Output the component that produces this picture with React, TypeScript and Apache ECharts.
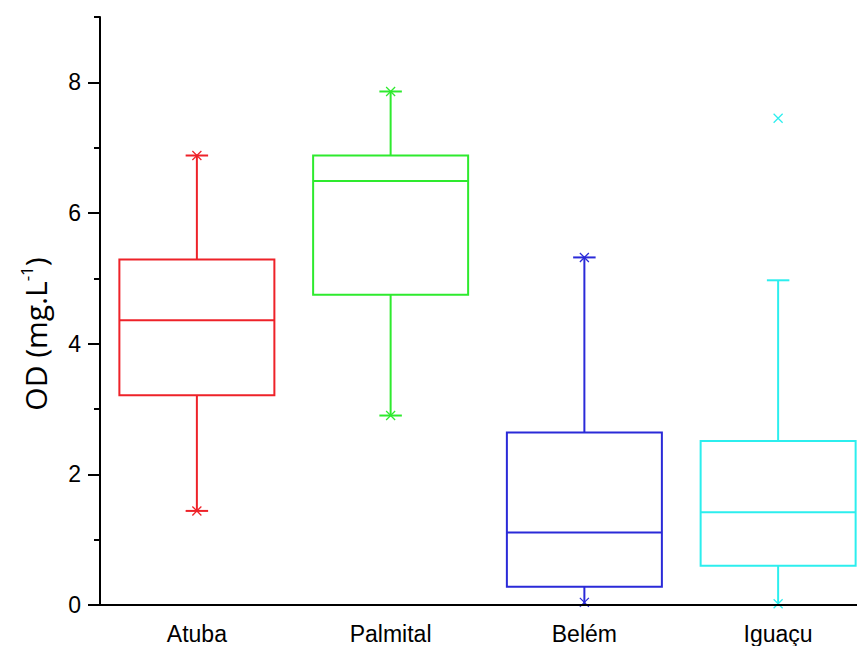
import React, { useEffect, useRef } from "react";
import * as echarts from "echarts";

const categories = ["Atuba", "Palmital", "Belém", "Iguaçu"];
const colors = ["#ee2229", "#2eea2e", "#2a2ad8", "#2ceeee"];
// [min, Q1, median, Q3, max]
const boxStats = [
  [1.44, 3.21, 4.36, 5.29, 6.88],
  [2.9, 4.75, 6.49, 6.88, 7.86],
  [0.0, 0.28, 1.11, 2.64, 5.32],
  [0.0, 0.6, 1.42, 2.51, 4.97],
];
const means = [4.27, 5.75, 1.7, 2.0];
// x-shaped markers (percentiles / outliers): [categoryIndex, value]
const crossMarks = [
  [0, 6.88], [0, 1.44],
  [1, 7.86], [1, 2.9],
  [2, 5.32], [2, 0.04],
  [3, 7.45], [3, 0.02],
];
const yMajorTicks = [0, 2, 4, 6, 8];
const yMinorTicks = [1, 3, 5, 7, 9];
const yTitle = "OD (mg.L{sup|-1})";

export default function App() {
  const ref = useRef<HTMLDivElement>(null);
  useEffect(() => {
    if (!ref.current) return;
    const chart = echarts.init(ref.current, undefined, { renderer: "svg" });
    const font = "Liberation Sans, Arial, sans-serif";
    const nameFont = "Open Sans, Liberation Sans, sans-serif";
    chart.setOption({
      animation: false,
      grid: { left: 100, top: 17, width: 775, height: 588, outerBoundsMode: "none", containLabel: false },
      graphic: [
        {
          type: "text",
          x: 35,
          y: 334,
          rotation: Math.PI / 2,
          style: {
            text: yTitle,
            fill: "#000",
            fontSize: 30,
            fontFamily: nameFont,
            align: "center",
            verticalAlign: "middle",
            rich: {
              sup: { fontSize: 17, fontFamily: nameFont, fill: "#000", verticalAlign: "top", padding: [0, 0, 18, 0] },
            },
          },
        },
      ],
      xAxis: {
        type: "category",
        data: categories,
        z: 10,
        boundaryGap: true,
        axisLine: { lineStyle: { color: "#000", width: 2 } },
        axisTick: { alignWithLabel: true, length: 12, lineStyle: { color: "#000", width: 2 } },
        axisLabel: { color: "#000", fontSize: 23, fontFamily: font, margin: 17 },
      },
      yAxis: [
        {
          type: "value",
          min: 0,
          max: 9,
          interval: 1,
          z: 10,
          axisLine: { show: true, lineStyle: { color: "#000", width: 2 } },
          axisTick: { show: true, length: 12, customValues: yMajorTicks, lineStyle: { color: "#000", width: 2 } },
          axisLabel: { color: "#000", fontSize: 23, fontFamily: font, margin: 19, customValues: yMajorTicks },
          splitLine: { show: false },
        },
        {
          type: "value",
          min: 0,
          max: 9,
          interval: 1,
          position: "left",
          z: 10,
          axisLine: { show: false },
          axisTick: { show: true, length: 6, customValues: yMinorTicks, lineStyle: { color: "#000", width: 2 } },
          axisLabel: { show: false },
          splitLine: { show: false },
        },
      ],
      series: [
        {
          type: "custom",
          data: boxStats.map((s, i) => [i, ...s]),
          renderItem: (params: any, api: any) => {
            const i = api.value(0);
            const c = colors[i];
            const band = api.size([1, 0])[0];
            const half = band * 0.4;
            const capHalf = band * 0.058;
            const pMin = api.coord([i, api.value(1)]);
            const pQ1 = api.coord([i, api.value(2)]);
            const pMed = api.coord([i, api.value(3)]);
            const pQ3 = api.coord([i, api.value(4)]);
            const pMax = api.coord([i, api.value(5)]);
            const x = pMin[0];
            const st = { stroke: c, lineWidth: 2, fill: "none" };
            return {
              type: "group",
              children: [
                { type: "line", shape: { x1: x, y1: pQ3[1], x2: x, y2: pMax[1] }, style: st },
                { type: "line", shape: { x1: x, y1: pQ1[1], x2: x, y2: pMin[1] }, style: st },
                { type: "line", shape: { x1: x - capHalf, y1: pMax[1], x2: x + capHalf, y2: pMax[1] }, style: st },
                { type: "line", shape: { x1: x - capHalf, y1: pMin[1], x2: x + capHalf, y2: pMin[1] }, style: st },
                {
                  type: "rect",
                  shape: { x: x - half, y: pQ3[1], width: half * 2, height: pQ1[1] - pQ3[1] },
                  style: { stroke: c, lineWidth: 2, fill: "#fff" },
                },
                { type: "line", shape: { x1: x - half, y1: pMed[1], x2: x + half, y2: pMed[1] }, style: st },
              ],
            };
          },
        },
        {
          type: "custom",
          data: crossMarks,
          renderItem: (params: any, api: any) => {
            const i = api.value(0);
            const p = api.coord([i, api.value(1)]);
            const r = 4.5;
            const st = { stroke: colors[i], lineWidth: 1.3 };
            return {
              type: "group",
              children: [
                { type: "line", shape: { x1: p[0] - r, y1: p[1] - r, x2: p[0] + r, y2: p[1] + r }, style: st },
                { type: "line", shape: { x1: p[0] - r, y1: p[1] + r, x2: p[0] + r, y2: p[1] - r }, style: st },
              ],
            };
          },
        },
        {
          type: "scatter",
          data: means.map((m, i) => [i, m]),
          symbol: "rect",
          symbolSize: 7,
          itemStyle: {
            color: "#fff",
            borderWidth: 1,
            borderColor: (p: any) => colors[p.dataIndex],
          },
        },
      ],
    });
    return () => chart.dispose();
  }, []);
  return <div ref={ref} style={{ width: 865, height: 646, marginLeft: -8, marginTop: -8 }} />;
}
